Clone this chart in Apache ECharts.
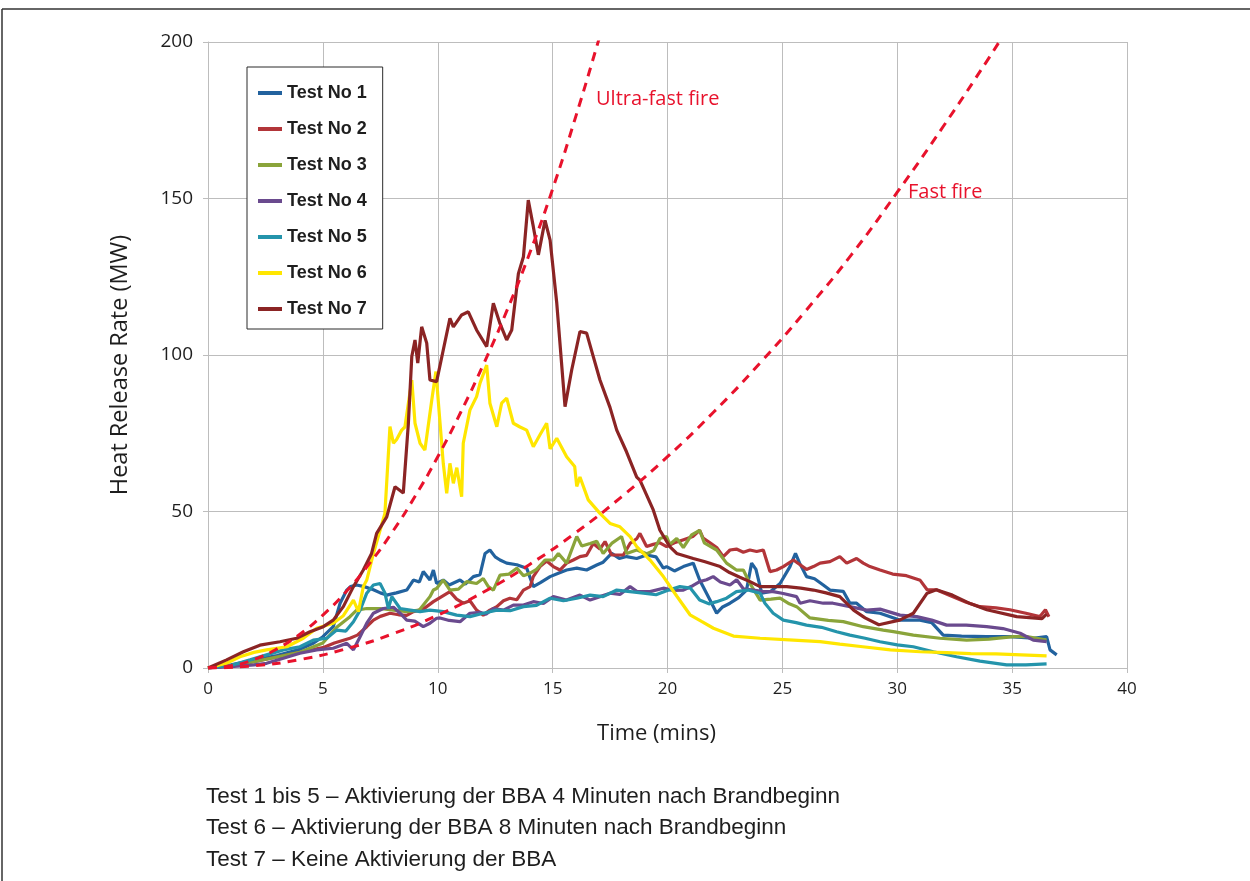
<!DOCTYPE html>
<html>
<head>
<meta charset="utf-8">
<title>Heat Release Rate</title>
<script src="https://cdn.jsdelivr.net/npm/echarts@6/dist/echarts.min.js"></script>
<style>
  html, body { margin: 0; padding: 0; background: #ffffff; }
  #chart { width: 1250px; height: 881px; }
</style>
</head>
<body>
<div id="chart"></div>
<script>
// Heat release rate curves [time (min), HRR (MW)]
const test1 = [[0,0],[1,1],[2,2.5],[3,4],[4,6],[4.6,8],[5,10],[5.45,13.2],[5.75,20.7],[6.04,24.9],[6.2,26],[6.47,26.5],[6.8,26],[7.2,25],[7.5,24],[7.78,23.3],[8.2,24],[8.65,24.9],[8.94,28.1],[9.2,27.5],[9.37,30.8],[9.66,28.1],[9.81,31.3],[9.95,27],[10.24,28.1],[10.5,26.5],[10.97,28.1],[11.2,26.8],[11.55,29.2],[11.84,29.8],[12.06,36.6],[12.27,37.7],[12.5,35.5],[12.71,34.5],[13,33.5],[13.44,33],[13.87,31.9],[14.16,26],[14.45,27.2],[14.89,29.2],[15.25,30.3],[15.61,31.3],[16.05,31.9],[16.48,31.3],[16.92,32.9],[17.2,33.8],[17.57,36.6],[17.9,35],[18.22,35.6],[18.66,35],[19.09,36.1],[19.5,35.5],[19.82,31.9],[19.96,32.4],[20.3,31],[20.69,32.4],[21.12,33.5],[21.4,28.1],[21.85,21.7],[22.14,17.5],[22.4,19.5],[22.72,20.7],[23.1,22.5],[23.44,24.9],[23.66,33.5],[23.85,31.5],[24.1,23.9],[24.5,24.5],[24.9,27],[25.33,32.4],[25.57,36.6],[25.75,33.5],[26.05,29.2],[26.4,28.5],[26.78,26.5],[27.07,24.9],[27.65,24.5],[27.94,20.7],[28.23,20.7],[28.67,18],[29.25,17.5],[30.1,15.3],[30.99,15.3],[31.5,14.5],[32,10.5],[32.8,10.2],[33.89,10],[34.9,10],[35.9,9.5],[36.5,10],[36.65,5.8],[36.94,4.2]];

const test2 = [[0,0],[1,0.8],[2,2],[3,3.5],[4,5],[5,6.5],[5.5,8],[6.18,9.5],[6.5,10.5],[6.91,13.2],[7.2,15.3],[7.5,16.5],[7.92,17.5],[8.3,17],[8.65,16.8],[8.94,18],[9.37,18.8],[9.81,21.2],[10.1,22.5],[10.53,24.4],[10.82,22],[11.11,20.7],[11.4,21.5],[11.69,18.5],[11.98,16.9],[12.27,18.5],[12.57,19.6],[12.86,21.5],[13.14,22.3],[13.44,21.8],[13.73,24.9],[14.02,26],[14.16,29.2],[14.45,32.4],[14.74,34.2],[15.03,32.4],[15.32,31.3],[15.61,33.5],[15.9,34.5],[16.19,35.6],[16.48,36],[16.77,39.8],[17.06,38],[17.28,40.4],[17.57,36.1],[17.79,36.1],[18.08,36.1],[18.37,39.8],[18.66,41.3],[18.8,43],[19.09,38.8],[19.38,39.5],[19.67,40],[19.96,38.8],[20.3,40],[20.7,41],[21.1,42],[21.4,44],[21.55,41.5],[21.85,40],[22.14,38.5],[22.43,35.6],[22.72,37.7],[23,38],[23.3,37],[23.59,37.7],[23.88,37.2],[24.17,37.7],[24.46,30.8],[24.75,31.3],[25.04,32.4],[25.48,34.5],[25.77,33],[26.05,31.5],[26.35,32.4],[26.64,33.5],[27.07,34],[27.5,35.6],[27.8,33.5],[28.23,35],[28.52,33.5],[28.81,32.4],[29.25,31.3],[29.8,30],[30.4,29.5],[31,28],[31.3,25],[31.7,25],[32.4,22.8],[33,21],[33.6,19.6],[34.3,19.2],[34.9,18.6],[35.6,17.5],[36.2,16.4],[36.45,18.6],[36.6,16.4]];

const test3 = [[0,0],[1,0.8],[2,2],[3,3.5],[4,5],[5,8],[5.6,13],[6.18,16.4],[6.47,18.5],[6.91,19],[7.49,19],[8.07,18.5],[8.65,18],[9.2,18.5],[9.66,22.8],[9.81,24.9],[9.95,25.4],[10.24,28.1],[10.53,24.9],[10.9,25.2],[11.26,27.6],[11.69,27],[11.98,28.6],[12.2,26],[12.42,24.9],[12.71,29.7],[13.1,30],[13.44,31.9],[13.73,29.5],[14.02,30.3],[14.3,31.5],[14.67,34.5],[15.03,34.5],[15.25,36.6],[15.61,33.5],[16.05,42],[16.27,39],[16.63,39.8],[16.92,40.5],[17.2,36.6],[17.57,39.8],[18,42],[18.22,36.6],[18.66,37.7],[19.1,36.5],[19.4,37.5],[19.67,41.4],[19.96,42],[20.1,39.5],[20.4,41.4],[20.69,38.5],[21.05,42.5],[21.4,44],[21.6,40],[22.14,37.7],[22.57,33.5],[23,31.3],[23.3,31.3],[23.59,27],[24.03,21.7],[24.5,22],[24.9,22.3],[25.3,20.5],[25.62,19.6],[26.2,16],[27,15.2],[27.65,14.8],[28.52,13.2],[29.39,12.1],[29.83,11.6],[30.7,10.5],[31.86,9.5],[33.02,8.9],[34,9.2],[35.05,10],[35.7,10],[36.5,8.9]];

const test4 = [[0,0],[1,0.4],[2,1],[2.55,1.5],[3.28,3.1],[4,4.7],[4.73,5.8],[5.45,6.3],[6.04,7.9],[6.33,5.8],[6.62,10],[6.91,14.3],[7.2,17.5],[7.63,19],[8.07,19.4],[8.36,17.5],[8.65,15.3],[9,15],[9.37,13.2],[9.66,14.3],[9.95,15.9],[10.1,16],[10.5,15.2],[10.97,14.8],[11.4,17.5],[11.84,17.8],[12.1,17.2],[12.42,19],[12.86,18.5],[13.29,20.1],[13.73,20.1],[14.16,21.2],[14.6,20.6],[15.03,22.8],[15.6,21.7],[16.19,23.3],[16.63,21.7],[17.06,22.8],[17.5,23.9],[17.93,23.5],[18.37,26],[18.66,24.5],[19.24,24.4],[19.82,25.5],[20.24,24.8],[20.69,24.9],[21.1,26.3],[21.4,27.6],[21.7,28.2],[21.99,29.2],[22.3,27.5],[22.72,26.5],[23.01,28.2],[23.3,25.3],[23.74,24.9],[24.17,24.4],[24.6,24.4],[25.04,23.8],[25.62,22.8],[25.77,20.7],[26.2,21.5],[26.78,20.7],[27.2,20.7],[27.94,19.6],[28.67,18.5],[29.25,18.8],[30.12,16.9],[30.85,16.4],[31.5,15.3],[32.15,13.7],[33,13.7],[33.89,13.2],[34.6,12.6],[35.35,11.1],[35.92,8.9],[36.5,8.4]];

const test5 = [[0,0],[1,0.8],[1.83,2.6],[2.55,4.2],[3.28,5.8],[4,6.8],[4.58,8.9],[5.17,9.5],[5.6,12.1],[6,11.8],[6.33,14.8],[6.62,18.5],[6.91,23.9],[7.2,26.5],[7.49,27],[7.7,24],[7.85,19],[8,22.8],[8.36,19],[8.8,18.5],[9.23,18],[9.66,18.5],[10.24,18],[10.82,16.9],[11.4,16.4],[11.98,17.5],[12.57,18.5],[13.15,18.3],[13.73,19.6],[14.3,20],[14.89,22.3],[15.47,21.5],[16.05,22.3],[16.63,23.3],[17.2,22.8],[17.79,24.9],[18.37,24.4],[18.95,23.9],[19.5,23.4],[19.96,24.7],[20.54,26],[21,25.5],[21.4,21.7],[21.8,20.5],[22.14,21.2],[22.57,22.3],[23,24.4],[23.5,24.9],[24.03,23.9],[24.24,20.7],[24.6,17.5],[25.04,15.3],[25.6,14.5],[26.05,13.7],[26.7,13],[27.36,11.6],[27.94,10.5],[28.6,9.5],[29.25,8.4],[30,7.4],[30.7,6.8],[31.57,5.2],[32.58,3.6],[33.6,2.2],[34.76,1],[35.6,1],[36.5,1.3]];

const test6 = [[0,0],[0.8,1.5],[1.39,3.6],[2,5],[2.55,5.8],[3.43,6.8],[4.15,9.5],[4.73,12.7],[5.45,14.3],[5.89,16.7],[6.33,21.7],[6.55,18],[6.76,26],[6.91,28.1],[7.2,36.6],[7.7,49.4],[7.92,77.1],[8.07,71.8],[8.21,73],[8.43,76],[8.57,77],[8.87,92],[9.01,78.2],[9.23,71.8],[9.44,69.6],[9.74,85.6],[9.92,94.7],[10.1,78.2],[10.24,65.4],[10.39,55.8],[10.53,65.4],[10.68,59],[10.83,64],[11.04,54.7],[11.11,71.8],[11.4,82.4],[11.69,86.7],[11.84,91],[12.13,96.8],[12.27,84.6],[12.57,77.1],[12.78,84.6],[13,86.2],[13.29,78.2],[13.58,77],[13.87,76],[14.16,70.7],[14.45,74.5],[14.74,78.2],[14.89,70],[15.18,73.4],[15.61,67.5],[15.96,64.4],[16.05,58],[16.19,61],[16.55,53.7],[17.06,49.4],[17.5,46.2],[17.93,45.1],[18.37,42],[18.66,38.8],[19.24,34.5],[19.82,29.2],[20.4,23],[20.98,17],[21.5,14.8],[22,12.7],[22.87,10.2],[24.03,9.5],[25.48,8.9],[26.64,8.4],[27.5,7.6],[28.5,6.8],[29.7,5.8],[31,5.2],[32.15,4.9],[33.2,4.6],[34.3,4.5],[35.4,4.2],[36.5,3.9]];

const test7 = [[0,0],[0.81,2.6],[1.54,5.2],[2.26,7.3],[3.13,8.4],[3.86,9.5],[4.44,11.6],[5.02,13.2],[5.45,15.3],[5.89,19.6],[6.33,26],[6.76,31.3],[7.12,36.6],[7.34,43],[7.78,48.3],[8.14,57.9],[8.5,55.9],[8.72,78],[8.87,99.5],[9.01,104.8],[9.13,97.4],[9.3,109],[9.52,103.8],[9.66,92],[9.95,91.5],[10.24,101.6],[10.53,111.7],[10.68,109],[11.04,112.8],[11.33,113.8],[11.69,108],[12.13,102.7],[12.42,116.5],[12.71,110],[13,104.8],[13.22,108],[13.51,126],[13.73,131.4],[13.94,149.5],[14.16,141],[14.38,132],[14.67,143],[14.89,136.7],[15.18,116.6],[15.54,83.5],[15.83,95.2],[16.19,107.5],[16.48,107],[16.77,99.5],[17.06,92],[17.5,83.2],[17.79,76],[18.22,69],[18.66,61],[18.8,60],[19.38,50.5],[19.67,44],[20.1,38.8],[20.4,36.6],[21.12,35],[21.6,34],[22.29,32.4],[22.7,30.5],[23.15,29],[23.59,27.6],[24.03,26],[24.6,26],[25.19,26],[25.8,25.5],[26.35,24.9],[26.9,24],[27.5,22.8],[28.1,18.5],[28.6,16],[29.2,13.8],[30.1,15.3],[30.7,17.5],[31.3,23.9],[31.7,25],[32.4,23.3],[33.2,20.5],[33.9,18.6],[35.2,16.4],[36.3,15.8],[36.5,17.2]];

// Design fire growth curves [time (min), HRR (MW)]
const ultraFast = [[0,0],[1,0.7],[2,2.7],[3,6.1],[4,10.8],[5,16.9],[6,24.3],[7,33.1],[8,43.2],[9,54.7],[10,67.5],[11,81.7],[12,97.2],[13,114],[14,132.5],[15,153],[16,176],[17,200.5],[17.05,202]];
const fast = [[0,0],[2,0.7],[4,2.7],[6,6.1],[8,10.8],[10,16.9],[12,24.3],[14,33.1],[16,43.2],[18,54.7],[20,67.5],[22,81.7],[24,97.2],[26,114],[28,132],[30,152],[32,173],[34,195],[34.6,202]];

const testNames = ['Test No 1', 'Test No 2', 'Test No 3', 'Test No 4', 'Test No 5', 'Test No 6', 'Test No 7'];
const testData = [test1, test2, test3, test4, test5, test6, test7];
const testColors = ['#22629e', '#b23539', '#8aa43a', '#6a4a8e', '#2494ab', '#ffe600', '#8b2424'];

const fireNames = ['Ultra-fast fire', 'Fast fire'];
const fireData = [ultraFast, fast];

const footnotes = [
  'Test 1 bis 5 \u2013 Aktivierung der BBA 4 Minuten nach Brandbeginn',
  'Test 6 \u2013 Aktivierung der BBA 8 Minuten nach Brandbeginn',
  'Test 7 \u2013 Keine Aktivierung der BBA'
];

const axisFont = '"Open Sans", "Noto Sans", sans-serif';
const gridGrey = '#bdbdbd';

const chart = echarts.init(document.getElementById('chart'), null, { renderer: 'canvas' });

const series = testData.map((d, i) => ({
  name: testNames[i],
  type: 'line',
  data: d,
  showSymbol: false,
  symbol: 'none',
  lineStyle: { width: 3.2, color: testColors[i] },
  itemStyle: { color: testColors[i] },
  z: 2,
  animation: false
}));

fireData.forEach((d, i) => {
  series.push({
    name: fireNames[i],
    type: 'line',
    data: d,
    smooth: true,
    symbol: 'none',
    lineStyle: { width: 3, color: '#e8122c', type: [9, 7] },
    itemStyle: { color: '#e8122c' },
    z: 3,
    animation: false
  });
});

const graphic = [
  // outer frame (top and left edges)
  { type: 'line', shape: { x1: 2, y1: 9, x2: 1250, y2: 9 }, style: { stroke: '#333', lineWidth: 1.5 } },
  { type: 'line', shape: { x1: 2, y1: 9, x2: 2, y2: 881 }, style: { stroke: '#333', lineWidth: 1.5 } },
  { type: 'text', left: 596, top: 89, style: { text: fireNames[0], fill: '#e8122c', font: '20px ' + axisFont } },
  { type: 'text', left: 908, top: 182, style: { text: fireNames[1], fill: '#e8122c', font: '20px ' + axisFont } }
];
footnotes.forEach((t, i) => {
  graphic.push({
    type: 'text', left: 206, top: 785 + i * 31.5,
    style: { text: t, fill: '#1e1e1e', font: '22.5px "Liberation Sans", Arial, sans-serif' }
  });
});

chart.setOption({
  animation: false,
  backgroundColor: '#ffffff',
  grid: { left: 208, right: 123, top: 42, bottom: 213, containLabel: false },
  legend: {
    data: testNames,
    orient: 'vertical',
    left: 247,
    top: 67,
    padding: [17, 16, 11, 11],
    itemGap: 18,
    itemWidth: 24,
    itemHeight: 4,
    icon: 'rect',
    backgroundColor: '#ffffff',
    borderColor: '#2b2b2b',
    borderWidth: 1,
    textStyle: {
      fontFamily: '"Liberation Sans", Arial, sans-serif',
      fontWeight: 'bold',
      fontSize: 18,
      lineHeight: 18,
      color: '#1e1e1e'
    }
  },
  xAxis: {
    type: 'value',
    min: 0,
    max: 40,
    interval: 5,
    name: 'Time (mins)',
    nameLocation: 'middle',
    nameGap: 55,
    nameTextStyle: { fontFamily: axisFont, fontSize: 22, color: '#1e1e1e', padding: [0, 22, 0, 0] },
    axisLine: { show: true, lineStyle: { color: gridGrey, width: 1 } },
    axisTick: { show: true, length: 5, lineStyle: { color: gridGrey } },
    axisLabel: { margin: 13, fontFamily: axisFont, fontSize: 17, color: '#1e1e1e' },
    splitLine: { show: true, lineStyle: { color: gridGrey, width: 1 } }
  },
  yAxis: {
    type: 'value',
    min: 0,
    max: 200,
    interval: 50,
    name: 'Heat Release Rate (MW)',
    nameLocation: 'middle',
    nameGap: 76,
    nameRotate: 90,
    nameTextStyle: { fontFamily: axisFont, fontSize: 23.5, color: '#1e1e1e', padding: [0, 20, 0, 0] },
    axisLine: { show: true, lineStyle: { color: gridGrey, width: 1 } },
    axisTick: { show: true, length: 5, lineStyle: { color: gridGrey } },
    axisLabel: { margin: 15, fontFamily: axisFont, fontSize: 19, color: '#1e1e1e' },
    splitLine: { show: true, lineStyle: { color: gridGrey, width: 1 } }
  },
  series: series,
  graphic: graphic
});
</script>
</body>
</html>
